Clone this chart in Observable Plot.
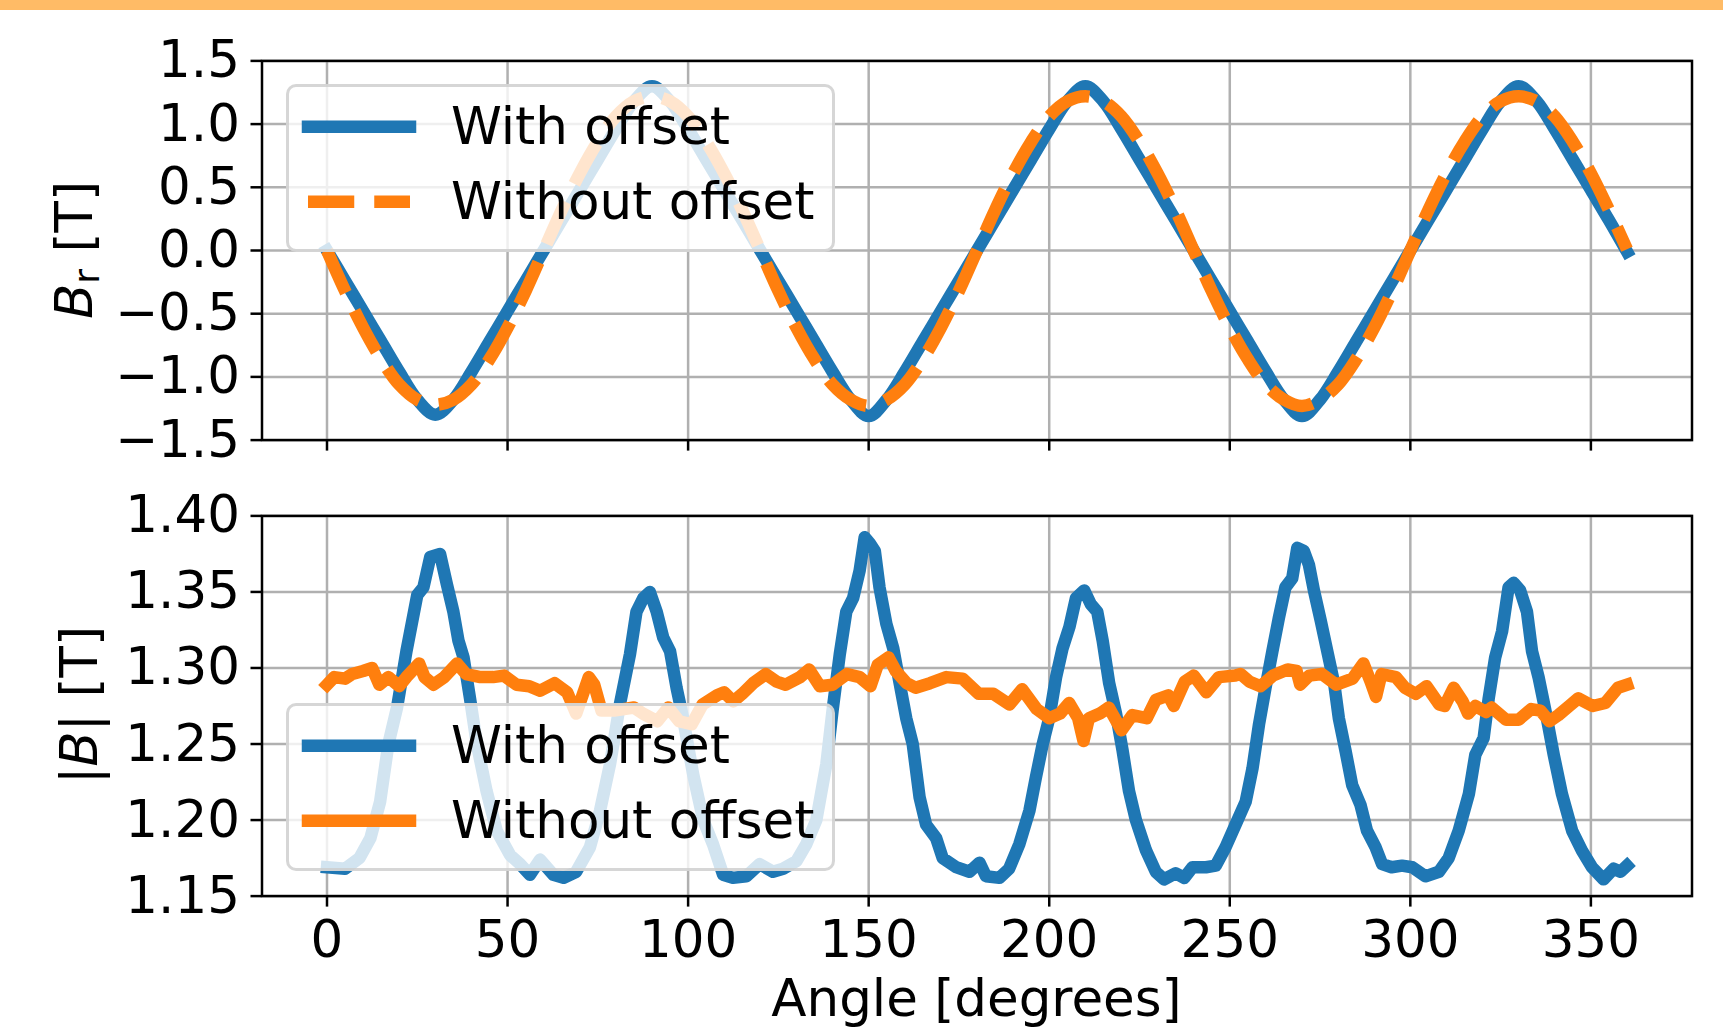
<!DOCTYPE html>
<html>
<head>
<meta charset="utf-8">
<script src="https://cdn.jsdelivr.net/npm/d3@7"></script>
<script src="https://cdn.jsdelivr.net/npm/@observablehq/plot@0.6"></script>
<style>
  html, body { margin: 0; padding: 0; background: #fff; }
  #page { position: relative; width: 1723px; height: 1028px; overflow: hidden; font-family: "DejaVu Sans"; color: #000; background: #fff; }
  .abs { position: absolute; }
  #topbar { position: absolute; left: 0; top: 0; width: 1723px; height: 10px; background: #ffbb66; }
  .legend { position: absolute; box-sizing: border-box; border: 3px solid rgba(204,204,204,0.8); background: rgba(255,255,255,0.8); border-radius: 10px; }
  .ltext { position: absolute; font-size: 51.5px; line-height: 50px; white-space: nowrap; }
  .ylabel { position: absolute; font-size: 51.5px; line-height: 50px; white-space: nowrap; transform-origin: 0 0; transform: rotate(-90deg) translateX(-50%); }
  .ylabel sub { font-size: 70%; line-height: 0; vertical-align: baseline; position: relative; top: 7px; }
  .xlabel { position: absolute; font-size: 51.5px; line-height: 50px; white-space: nowrap; transform: translateX(-50%); }
</style>
</head>
<body>
<div id="page">
  <div id="topbar"></div>
</div>
<script>
// ---------------- data ----------------
const xTicks = [0, 50, 100, 150, 200, 250, 300, 350];
const brTicks = [-1.5, -1.0, -0.5, 0.0, 0.5, 1.0, 1.5];
const absBTicks = [1.15, 1.20, 1.25, 1.30, 1.35, 1.40];
const seriesNames = ["With offset", "Without offset"];

// Top panel: radial field B_r [T], sampled every 5 degrees
const angleTop = [0,5,10,15,20,25,30,35,40,45,50,55,60,65,70,75,80,85,90,95,100,105,110,115,120,
  125,130,135,140,145,150,155,160,165,170,175,180,185,190,195,200,205,210,215,220,225,230,235,240,
  245,250,255,260,265,270,275,280,285,290,295,300,305,310,315,320,325,330,335,340,345,350,355,360];
const brWithOffset = [0.00,-0.24,-0.48,-0.72,-0.96,-1.18,-1.30,-1.18,-0.96,-0.72,-0.48,-0.24,0.00,
  0.24,0.48,0.72,0.96,1.18,1.30,1.18,0.96,0.72,0.48,0.24,0.00,
  -0.24,-0.48,-0.72,-0.96,-1.18,-1.31,-1.18,-0.96,-0.72,-0.48,-0.24,0.00,
  0.24,0.48,0.72,0.96,1.18,1.30,1.18,0.96,0.72,0.48,0.24,0.00,
  -0.24,-0.48,-0.72,-0.96,-1.18,-1.31,-1.18,-0.96,-0.72,-0.48,-0.24,0.00,
  0.24,0.48,0.72,0.96,1.18,1.30,1.18,0.96,0.72,0.48,0.24,-0.01];
const brWithoutOffset = [0.00,-0.32,-0.61,-0.86,-1.06,-1.18,-1.22,-1.18,-1.06,-0.86,-0.61,-0.32,0.00,
  0.32,0.61,0.86,1.06,1.18,1.22,1.18,1.06,0.86,0.61,0.32,0.00,
  -0.32,-0.61,-0.86,-1.06,-1.18,-1.23,-1.18,-1.06,-0.86,-0.61,-0.32,0.00,
  0.32,0.61,0.86,1.06,1.18,1.22,1.18,1.06,0.86,0.61,0.32,0.00,
  -0.32,-0.61,-0.86,-1.06,-1.18,-1.23,-1.18,-1.06,-0.86,-0.61,-0.32,0.00,
  0.32,0.61,0.86,1.06,1.18,1.22,1.18,1.06,0.86,0.61,0.32,0.01];

// Bottom panel: |B| [T]
const absBWithAngle = [0,5,9,12,14.7,17,19.4,22,25,26.7,28.6,31.3,33.2,35,36.4,37.8,39.6,41.5,44.2,47,
  50.7,53.5,56.2,59,62.7,65.5,69,72.8,75.6,78.4,81.1,83.9,85.7,87.6,89.4,91.3,93.1,95,96.8,98.6,
  101.4,104.2,106.9,109.7,112.4,116.1,119.8,123.5,126.3,130,132.7,135.5,138.3,140,142,143.8,145.7,147.5,148.9,150.3,
  151.7,153,154.9,156.8,158.5,160.4,162.2,164.1,165.9,168.7,170.5,174.2,177.9,180.7,182.5,186.2,188.9,191.7,194.5,196.3,
  198.2,200,201.9,203.7,205.6,207.4,209.7,211.5,213.3,214.8,216.6,218.5,220.3,222.1,224,226.8,229.5,231.8,235,237.4,
  239.7,243.4,246.1,248.8,251.6,254.4,256.3,258.1,259.9,261.8,263.6,265.4,267.3,268.7,270.5,271.9,273.3,275.2,277,278.9,
  280.2,282.1,283.9,286.2,288,290.4,292.2,294.8,297.7,300.5,304.2,307.9,310.6,313.4,316.2,318,320.3,321.7,323.5,325.4,
  327.2,328.6,330.4,332.3,333.7,335.5,337.4,339.7,342,344.8,347.5,350.3,353.5,356.3,358.2,360];
const absBWith = [1.169,1.168,1.175,1.188,1.212,1.250,1.274,1.311,1.348,1.353,1.373,1.375,1.355,1.337,1.318,1.307,1.280,1.250,1.219,1.193,
  1.177,1.171,1.164,1.174,1.164,1.162,1.166,1.182,1.206,1.237,1.276,1.309,1.337,1.346,1.350,1.337,1.320,1.311,1.287,1.267,
  1.230,1.200,1.184,1.164,1.162,1.163,1.171,1.166,1.168,1.173,1.184,1.200,1.237,1.272,1.309,1.337,1.346,1.364,1.386,1.382,
  1.377,1.353,1.329,1.313,1.291,1.267,1.250,1.215,1.197,1.188,1.175,1.169,1.166,1.172,1.163,1.162,1.168,1.184,1.206,1.228,
  1.250,1.267,1.294,1.313,1.327,1.346,1.351,1.342,1.337,1.318,1.290,1.270,1.246,1.219,1.200,1.180,1.166,1.161,1.165,1.162,
  1.169,1.169,1.170,1.182,1.197,1.212,1.234,1.263,1.287,1.311,1.333,1.353,1.359,1.379,1.377,1.368,1.351,1.331,1.311,1.290,
  1.267,1.245,1.223,1.210,1.193,1.182,1.171,1.169,1.170,1.169,1.163,1.166,1.175,1.193,1.217,1.243,1.254,1.280,1.307,1.324,
  1.353,1.356,1.351,1.337,1.311,1.294,1.272,1.243,1.217,1.193,1.180,1.169,1.161,1.168,1.166,1.170];

const absBWithoutAngle = [0,2,5,7,10,12.5,14.5,17,20,22,25.5,27,29.5,32.5,36,38.5,42.5,46,49,52.5,
  56,59,63,66.5,69,72.5,74,76,79.5,85,87.5,91.5,94.5,97.5,101,104,108,110,112.5,115,
  118,121.5,124.5,127,131,133.5,136.5,140,144,147.5,150.5,152.5,155.5,157.5,160.5,163,167,171.5,176,180.5,
  184.5,189,192.5,196.5,200,203,205.5,208,209.5,211,214,216.5,220,223,227,229.5,233,234.5,237.5,240,
  243.5,247,251.5,253,255.5,258.5,262,266,268.5,269.5,272,275.5,279.5,284,287,289,290.5,292,296,298.5,
  301.5,304.5,308,309.5,312,314.5,316,318,321,322.5,326.5,330,333.5,336,338.5,341,344,346.5,350.5,354,
  357.5,360];
const absBWithout = [1.289,1.294,1.293,1.296,1.298,1.300,1.289,1.294,1.288,1.294,1.303,1.294,1.289,1.294,1.303,1.296,1.294,1.294,1.295,1.289,
  1.288,1.285,1.290,1.284,1.270,1.294,1.289,1.272,1.272,1.274,1.270,1.265,1.274,1.265,1.263,1.276,1.282,1.284,1.278,1.283,
  1.290,1.296,1.291,1.289,1.294,1.299,1.288,1.289,1.296,1.294,1.288,1.302,1.307,1.298,1.290,1.287,1.290,1.294,1.293,1.283,
  1.283,1.276,1.286,1.273,1.267,1.270,1.277,1.267,1.252,1.267,1.270,1.274,1.259,1.269,1.267,1.279,1.282,1.275,1.291,1.295,
  1.284,1.294,1.295,1.296,1.291,1.288,1.295,1.299,1.298,1.289,1.295,1.296,1.289,1.293,1.303,1.291,1.281,1.296,1.294,1.287,
  1.283,1.288,1.276,1.275,1.287,1.278,1.270,1.275,1.271,1.274,1.266,1.266,1.273,1.272,1.265,1.269,1.275,1.280,1.275,1.277,
  1.287,1.289];

// ---------------- drawing ----------------
const BLUE = "#1f77b4", ORANGE = "#ff7f0e";
const LW = 12.5, DASH = "46.25,20";
const FONT = "DejaVu Sans";
const FS = 51.5;
const BASE = 42.8; // baseline offset inside a 50px line box at FS
const W = 1723;
const M_LEFT = 261.5, M_RIGHT = 31.5;
const xDomain = [-18, 378];
const page = document.getElementById("page");
const topbar = document.getElementById("topbar");

const topRows = angleTop.map((a, i) => ({angle: a, withOff: brWithOffset[i], withoutOff: brWithoutOffset[i]}));
const botWithRows = absBWithAngle.map((a, i) => ({angle: a, value: absBWith[i]}));
const botWithoutRows = absBWithoutAngle.map((a, i) => ({angle: a, value: absBWithout[i]}));

const gridStyle = {stroke: "#b0b0b0", strokeOpacity: 1, strokeWidth: 2.5};
const baseStyle = {fontFamily: FONT, fontSize: FS + "px", background: "transparent", color: "black", overflow: "visible"};

const topPlot = Plot.plot({
  width: W, height: 470,
  marginLeft: M_LEFT, marginRight: M_RIGHT, marginTop: 60.4, marginBottom: 30.4,
  style: baseStyle,
  x: {domain: xDomain},
  y: {domain: [-1.5, 1.5]},
  marks: [
    Plot.gridX(xTicks, gridStyle),
    Plot.gridY(brTicks, gridStyle),
    Plot.line(topRows, {x: "angle", y: "withOff", stroke: BLUE, strokeWidth: LW, curve: "catmull-rom", strokeLinecap: "square", strokeLinejoin: "round"}),
    Plot.line(topRows, {x: "angle", y: "withoutOff", stroke: ORANGE, strokeWidth: LW, curve: "catmull-rom", strokeDasharray: DASH, strokeLinecap: "butt", strokeLinejoin: "round"}),
    Plot.axisX(xTicks, {tickSize: 11, strokeWidth: 2.5, stroke: "black", tickFormat: () => "", label: null}),
    Plot.axisY(brTicks, {tickSize: 11, tickPadding: 11, strokeWidth: 2.5, stroke: "black", fontSize: FS, tickFormat: d3.format(".1f"), label: null}),
    Plot.frame({stroke: "black", strokeWidth: 2.5})
  ]
});
topPlot.style.position = "absolute";
topPlot.style.left = "0px";
topPlot.style.top = "0px";
page.insertBefore(topPlot, topbar);

const botPlot = Plot.plot({
  width: W, height: 558,
  marginLeft: M_LEFT, marginRight: M_RIGHT, marginTop: 45.4, marginBottom: 132.4,
  style: baseStyle,
  x: {domain: xDomain},
  y: {domain: [1.15, 1.40]},
  marks: [
    Plot.gridX(xTicks, gridStyle),
    Plot.gridY(absBTicks, gridStyle),
    Plot.line(botWithRows, {x: "angle", y: "value", stroke: BLUE, strokeWidth: LW, strokeLinecap: "square", strokeLinejoin: "round"}),
    Plot.line(botWithoutRows, {x: "angle", y: "value", stroke: ORANGE, strokeWidth: LW, strokeLinecap: "square", strokeLinejoin: "round"}),
    Plot.axisX(xTicks, {tickSize: 11, tickPadding: 13, strokeWidth: 2.5, stroke: "black", fontSize: FS, tickFormat: d => String(d), label: null}),
    Plot.axisY(absBTicks, {tickSize: 11, tickPadding: 11, strokeWidth: 2.5, stroke: "black", fontSize: FS, tickFormat: d3.format(".2f"), label: null}),
    Plot.frame({stroke: "black", strokeWidth: 2.5})
  ]
});
botPlot.style.position = "absolute";
botPlot.style.left = "0px";
botPlot.style.top = "470px";
page.insertBefore(botPlot, topbar);

// ---------------- legends ----------------
function addLegend(boxTop, entries) {
  const L = 287.8, R = 833.4, H = 165;
  const box = document.createElement("div");
  box.className = "legend";
  box.style.left = (L - 1.5) + "px";
  box.style.top = (boxTop - 1.5) + "px";
  box.style.width = (R - L + 3) + "px";
  box.style.height = (H + 3) + "px";
  page.insertBefore(box, topbar);
  entries.forEach((e, i) => {
    const hy = boxTop + 41.7 + 75 * i;
    const ns = "http://www.w3.org/2000/svg";
    const svg = document.createElementNS(ns, "svg");
    svg.setAttribute("width", W);
    svg.setAttribute("height", 1028);
    svg.style.position = "absolute";
    svg.style.left = "0px";
    svg.style.top = "0px";
    svg.style.overflow = "visible";
    svg.style.pointerEvents = "none";
    const ln = document.createElementNS(ns, "line");
    ln.setAttribute("x1", 308); ln.setAttribute("x2", 410);
    ln.setAttribute("y1", hy); ln.setAttribute("y2", hy);
    ln.setAttribute("stroke", e.color);
    ln.setAttribute("stroke-width", LW);
    ln.setAttribute("stroke-linecap", e.dash ? "butt" : "square");
    if (e.dash) ln.setAttribute("stroke-dasharray", e.dash);
    svg.appendChild(ln);
    page.insertBefore(svg, topbar);
    const t = document.createElement("div");
    t.className = "ltext";
    t.textContent = e.label;
    t.style.left = "451px";
    t.style.top = (boxTop + 58.3 + 75 * i - BASE) + "px";
    page.insertBefore(t, topbar);
  });
}
addLegend(85, [
  {label: seriesNames[0], color: BLUE},
  {label: seriesNames[1], color: ORANGE, dash: DASH}
]);
addLegend(704, [
  {label: seriesNames[0], color: BLUE},
  {label: seriesNames[1], color: ORANGE}
]);

// ---------------- axis titles ----------------
const yl1 = document.createElement("div");
yl1.className = "ylabel";
yl1.innerHTML = "<i>B</i><sub>r</sub> [T]";
yl1.style.left = (91.8 - BASE) + "px";
yl1.style.top = "250px";
page.insertBefore(yl1, topbar);

const yl2 = document.createElement("div");
yl2.className = "ylabel";
yl2.innerHTML = "|<i>B</i>| [T]";
yl2.style.left = (97.2 - BASE) + "px";
yl2.style.top = "705px";
page.insertBefore(yl2, topbar);

const xl = document.createElement("div");
xl.className = "xlabel";
xl.textContent = "Angle [degrees]";
xl.style.left = "976.5px";
xl.style.top = (1016 - BASE) + "px";
page.insertBefore(xl, topbar);
</script>
</body>
</html>
